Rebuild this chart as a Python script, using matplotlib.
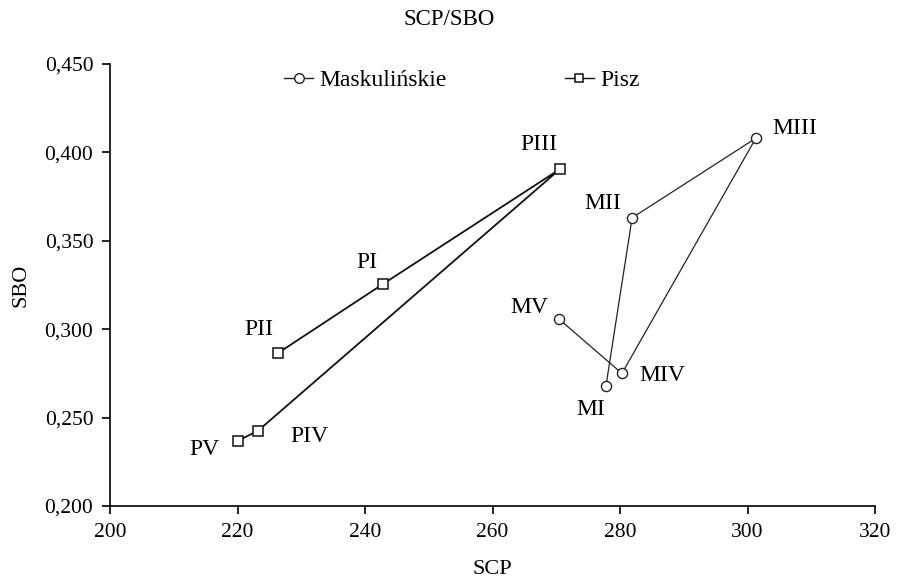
import matplotlib
matplotlib.use("Agg")
import matplotlib.pyplot as plt
from matplotlib.ticker import FuncFormatter

plt.rcParams['font.family'] = ['Liberation Serif', 'DejaVu Serif']

# Data
m_labels = ["MI", "MII", "MIII", "MIV", "MV"]
m_scp = [277.8, 281.9, 301.3, 280.3, 270.5]
m_sbo = [0.268, 0.363, 0.408, 0.275, 0.3055]

p_labels = ["PII", "PI", "PIII", "PIV", "PV"]
p_scp = [226.4, 242.8, 270.6, 223.2, 220.0]
p_sbo = [0.2866, 0.3255, 0.3906, 0.2425, 0.2368]

series_names = ["Maskulińskie", "Pisz"]

# label offsets (pixels)
m_off = {"MI": (-15, -24), "MII": (-29, 14), "MIII": (39, 10), "MIV": (40, -2), "MV": (-30, 12)}
p_off = {"PII": (-19, 23), "PI": (-16, 22), "PIII": (-21, 25), "PIV": (52, -6), "PV": (-33, -9)}

fig = plt.figure(figsize=(8.98, 5.87), dpi=100)
ax = fig.add_axes([0.1225, 0.138, 0.8519, 0.753])

ax.plot(m_scp, m_sbo, color='#222222', lw=0.9, marker='o', ms=7.3,
        mfc='white', mec='#222222', mew=1.0, label=series_names[0])
ax.plot(p_scp, p_sbo, color='#111111', lw=1.3, marker='s', ms=6.8,
        mfc='white', mec='#111111', mew=1.1, label=series_names[1])

for lab, x, y in zip(m_labels, m_scp, m_sbo):
    ax.annotate(lab, (x, y), xytext=m_off[lab], textcoords='offset pixels',
                ha='center', va='center', fontsize=17)
for lab, x, y in zip(p_labels, p_scp, p_sbo):
    ax.annotate(lab, (x, y), xytext=p_off[lab], textcoords='offset pixels',
                ha='center', va='center', fontsize=17)

ax.set_xlim(200, 320)
ax.set_ylim(0.2, 0.45)
ax.set_xticks([200, 220, 240, 260, 280, 300, 320])
ax.set_yticks([0.2, 0.25, 0.3, 0.35, 0.4, 0.45])
ax.yaxis.set_major_formatter(FuncFormatter(lambda v, p: f"{v:.3f}".replace('.', ',')))
ax.tick_params(direction='out', length=6, width=1.2, labelsize=15.5, pad=6)

for s in ['top', 'right']:
    ax.spines[s].set_visible(False)
for s in ['left', 'bottom']:
    ax.spines[s].set_linewidth(1.2)

ax.set_xlabel("SCP", fontsize=16, labelpad=13)
ax.set_ylabel("SBO", fontsize=16, labelpad=10)
fig.suptitle("SCP/SBO", fontsize=16.5, y=0.985)

leg = ax.legend(loc='center left', bbox_to_anchor=(0.316, 0.863),
                bbox_transform=fig.transFigure, ncol=2, frameon=False,
                fontsize=17, handlelength=1.25, handletextpad=0.25,
                columnspacing=5.0, borderpad=0, borderaxespad=0,
                markerscale=0.95)
for h in leg.legend_handles:
    h.set_linewidth(1.0)

fig.savefig("out.png", dpi=100)
